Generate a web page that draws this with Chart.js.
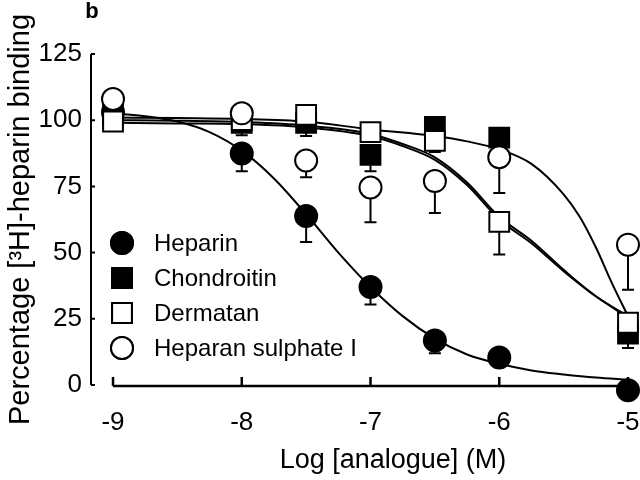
<!DOCTYPE html>
<html>
<head>
<meta charset="utf-8">
<script src="https://cdn.jsdelivr.net/npm/chart.js@4.4.1/dist/chart.umd.min.js"></script>
<style>
html, body { margin: 0; padding: 0; background: #fff; }
</style>
</head>
<body>
<canvas id="bindChart" width="640" height="480"></canvas>
<script>
// measured points (log M) and mean % binding
const logConc = [-9, -8, -7.5, -7, -6.5, -6, -5];
const heparin = [103, 87.4, 63.8, 37, 16.8, 10.4, -2];
const chondroitin = [102, 99, 99, 86.9, 97.5, 93.4, 19.4];
const dermatan = [99.5, 100, 102, 95.5, 92.2, 61.6, 23.5];
const heparanS = [108, 102.6, 84.8, 74.6, 77, 86, 53];

// lower ends of the error bars (null = none visible)
const heparinLow = [null, 80.7, 54, 30.4, 12, null, null];
const chondroitinLow = [null, 96.3, 94, 80.7, null, null, 14];
const dermatanLow = [null, null, null, null, 88, 49.3, null];
const heparanSLow = [null, 94.3, 78.5, 61.5, 65, 72.5, 36];

// fitted curves
const heparinFitX = [-9, -8.75, -8.5, -8.25, -8, -7.75, -7.5, -7.25, -7, -6.75, -6.5, -6.25, -6, -5.75, -5.5, -5.25, -5];
const heparinFitY = [102.5, 101.5, 99.5, 95.5, 88.5, 78, 64.5, 50, 37, 26, 17.5, 11.5, 8, 5.5, 4, 2.8, 2];
const chondroitinFitX = [-9, -8.5, -8, -7.5, -7, -6.5, -6.25, -6, -5.75, -5.5, -5.375, -5.25, -5.125, -5];
const chondroitinFitY = [101, 100.8, 100.5, 99.5, 96.5, 94, 92, 89, 83.5, 72, 63.5, 52, 38.5, 26];
const dermatanFitX = [-9, -8.5, -8, -7.5, -7, -6.75, -6.5, -6.25, -6, -5.75, -5.5, -5.25, -5];
const dermatanFitY = [100, 99.8, 99.3, 98, 94.8, 91, 86, 76.5, 63.5, 54.5, 43.5, 33.5, 26];
const heparanSFitX = [-9, -8.5, -8, -7.5, -7, -6.75, -6.5, -6.25, -6, -5.75, -5.5, -5.25, -5];
const heparanSFitY = [99, 98.8, 98.5, 97.3, 94, 90.2, 85, 75.5, 62.5, 53.5, 43, 33.5, 25.5];

const xTicks = [-9, -8, -7, -6, -5];
const yTicks = [0, 25, 50, 75, 100, 125];
const legendNames = ["Heparin", "Chondroitin", "Dermatan", "Heparan sulphate I"];

const FONT = "'Liberation Sans', Arial, Helvetica, sans-serif";

function pts(xs, ys) {
    return xs.map((x, i) => ({ x: x, y: ys[i] }));
}

function curve(xs, ys) {
    return {
        data: pts(xs, ys),
        showLine: true,
        borderColor: "#000",
        borderWidth: 2,
        pointRadius: 0,
        cubicInterpolationMode: "monotone",
        fill: false,
        order: 10
    };
}

function marks(ys, style, filled, radius, order, low) {
    return {
        data: pts(logConc, ys),
        low: low,
        showLine: false,
        pointStyle: style,
        pointRadius: radius,
        pointBorderWidth: 2,
        pointBorderColor: "#000",
        pointBackgroundColor: filled ? "#000" : "#fff",
        order: order,
        clip: false
    };
}

const pointSets = [
    marks(heparin, "circle", true, 11, 3, heparinLow),
    marks(chondroitin, "rect", true, 14, 4, chondroitinLow),
    marks(dermatan, "rect", false, 14, 2, dermatanLow),
    marks(heparanS, "circle", false, 11, 1, heparanSLow)
];

const extras = {
    id: "extras",
    beforeDatasetsDraw(chart) {
        const ctx = chart.ctx;
        const xs = chart.scales.x, ys = chart.scales.y;
        ctx.save();
        ctx.strokeStyle = "#000";
        ctx.lineWidth = 2;
        // error bars, under the markers
        pointSets.forEach(ds => {
            ds.low.forEach((lo, i) => {
                if (lo === null) return;
                const px = xs.getPixelForValue(logConc[i]);
                const top = ys.getPixelForValue(ds.data[i].y);
                const bot = ys.getPixelForValue(lo);
                ctx.beginPath();
                ctx.moveTo(px, top);
                ctx.lineTo(px, bot);
                ctx.moveTo(px - 6, bot);
                ctx.lineTo(px + 6, bot);
                ctx.stroke();
            });
        });
        // axes
        const y0 = ys.getPixelForValue(0);
        const left = chart.chartArea.left;
        ctx.beginPath();
        ctx.moveTo(left, ys.getPixelForValue(125));
        ctx.lineTo(left, y0);
        yTicks.forEach(v => {
            const py = ys.getPixelForValue(v);
            ctx.moveTo(left, py);
            ctx.lineTo(left + 4, py);
        });
        ctx.stroke();
        ctx.lineWidth = 2.5;
        ctx.beginPath();
        ctx.moveTo(xs.getPixelForValue(-9), y0 + 1);
        ctx.lineTo(xs.getPixelForValue(-5), y0 + 1);
        xTicks.forEach(v => {
            const px = xs.getPixelForValue(v);
            ctx.moveTo(px, y0 + 1);
            ctx.lineTo(px, y0 - 8);
        });
        ctx.stroke();
        ctx.restore();
    },
    afterDraw(chart) {
        const ctx = chart.ctx;
        ctx.save();
        ctx.fillStyle = "#000";
        ctx.textBaseline = "middle";
        // panel letter
        ctx.font = "bold 22px " + FONT;
        ctx.textAlign = "center";
        ctx.fillText("b", 92, 12);
        // x axis title
        ctx.font = "27px " + FONT;
        ctx.fillText("Log [analogue] (M)", 393, 461);
        // legend
        const rows = [243, 278, 313, 348];
        ctx.font = "24px " + FONT;
        ctx.textAlign = "left";
        pointSets.forEach((ds, i) => {
            Chart.helpers.drawPoint(ctx, {
                pointStyle: ds.pointStyle,
                radius: ds.pointRadius,
                borderWidth: 2,
                rotation: 0
            }, 122, rows[i]);
            ctx.fillStyle = ds.pointBackgroundColor;
            ctx.strokeStyle = "#000";
            ctx.lineWidth = 2;
            ctx.fill();
            ctx.stroke();
            ctx.fillStyle = "#000";
            ctx.fillText(legendNames[i], 154, rows[i] + 1);
        });
        ctx.restore();
    }
};

new Chart("bindChart", {
    type: "scatter",
    data: {
        datasets: [
            curve(heparinFitX, heparinFitY),
            curve(chondroitinFitX, chondroitinFitY),
            curve(dermatanFitX, dermatanFitY),
            curve(heparanSFitX, heparanSFitY)
        ].concat(pointSets)
    },
    options: {
        responsive: false,
        animation: false,
        events: [],
        layout: { autoPadding: false, padding: { top: 54, right: 12, left: 0, bottom: 0 } },
        plugins: {
            legend: { display: false },
            tooltip: { enabled: false }
        },
        scales: {
            x: {
                type: "linear",
                min: -9.171,
                max: -5,
                afterBuildTicks: s => { s.ticks = xTicks.map(v => ({ value: v })); },
                afterFit: s => { s.height = 95; s.paddingLeft = 0; s.paddingRight = 0; },
                grid: { display: false, drawTicks: false },
                border: { display: false },
                ticks: {
                    color: "#000",
                    padding: 22,
                    font: { family: FONT, size: 26 },
                    maxRotation: 0,
                    callback: v => String(v)
                }
            },
            y: {
                min: 0,
                max: 125,
                afterBuildTicks: s => { s.ticks = yTicks.map(v => ({ value: v })); },
                afterFit: s => { s.width = 91; s.paddingTop = 0; s.paddingBottom = 0; },
                grid: { display: false, drawTicks: false },
                border: { display: false },
                ticks: {
                    color: "#000",
                    padding: 9,
                    font: { family: FONT, size: 26 }
                },
                title: {
                    display: true,
                    text: "Percentage [³H]-heparin binding",
                    color: "#000",
                    font: { family: FONT, size: 29 },
                    padding: { top: 4, bottom: 0 }
                }
            }
        }
    },
    plugins: [extras]
});
</script>
</body>
</html>
